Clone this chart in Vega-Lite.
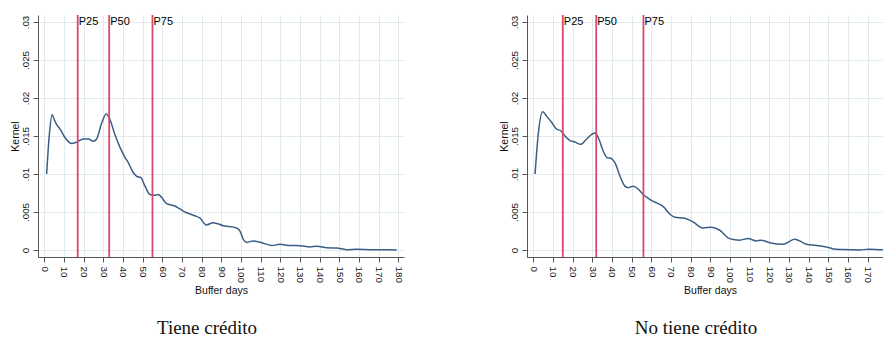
{
  "$schema": "https://vega.github.io/schema/vega-lite/v6.json",
  "background": "white",
  "padding": {"left": 10, "top": 14, "right": 0, "bottom": 0},
  "bounds": "flush",
  "spacing": 123,
  "config": {
    "font": "Liberation Sans",
    "view": {"stroke": null},
    "axis": {
      "domainColor": "#555555",
      "tickColor": "#555555",
      "tickSize": 5,
      "labelColor": "#111111",
      "titleColor": "#111111",
      "labelFontSize": 9.8,
      "titleFontSize": 10.5,
      "titleFontWeight": "normal",
      "gridColor": "#e1eaee",
      "gridWidth": 1
    },
    "axisX": {
      "labelOverlap": false,
      "labelFlush": false,
      "labelAngle": 90,
      "labelAlign": "left",
      "labelBaseline": "middle",
      "labelPadding": 4,
      "titlePadding": 3
    },
    "axisY": {
      "labelOverlap": false,
      "labelFlush": false,
      "labelAngle": -90,
      "labelAlign": "center",
      "labelBaseline": "bottom",
      "labelPadding": 3,
      "titleAngle": -90,
      "titleX": -23,
      "titleY": 121,
      "titleAlign": "center",
      "titleBaseline": "middle"
    }
  },
  "datasets": {
    "tiene": [
      {"day": 1.2, "kernel": 0.0100}, {"day": 2.5, "kernel": 0.0150}, {"day": 4.0, "kernel": 0.0178},
      {"day": 5.0, "kernel": 0.0172}, {"day": 6.3, "kernel": 0.0165}, {"day": 8.0, "kernel": 0.0159},
      {"day": 10.5, "kernel": 0.0148}, {"day": 12.5, "kernel": 0.0142}, {"day": 14.0, "kernel": 0.0140},
      {"day": 16.5, "kernel": 0.0142}, {"day": 19.8, "kernel": 0.0146}, {"day": 22.4, "kernel": 0.0146},
      {"day": 24.9, "kernel": 0.0143}, {"day": 26.6, "kernel": 0.0146}, {"day": 29.2, "kernel": 0.0167},
      {"day": 31.4, "kernel": 0.0179}, {"day": 33.0, "kernel": 0.0174}, {"day": 35.9, "kernel": 0.0152},
      {"day": 38.5, "kernel": 0.0135}, {"day": 41.0, "kernel": 0.0122}, {"day": 42.7, "kernel": 0.0115},
      {"day": 45.2, "kernel": 0.0102}, {"day": 47.0, "kernel": 0.0097}, {"day": 49.2, "kernel": 0.0095},
      {"day": 51.2, "kernel": 0.0084}, {"day": 53.7, "kernel": 0.0073}, {"day": 55.8, "kernel": 0.0072},
      {"day": 58.0, "kernel": 0.0073}, {"day": 59.7, "kernel": 0.0069}, {"day": 62.2, "kernel": 0.0061},
      {"day": 64.8, "kernel": 0.0059}, {"day": 66.4, "kernel": 0.0058}, {"day": 69.0, "kernel": 0.0054},
      {"day": 72.4, "kernel": 0.0049}, {"day": 76.6, "kernel": 0.0045}, {"day": 79.2, "kernel": 0.0042},
      {"day": 82.4, "kernel": 0.0033}, {"day": 85.9, "kernel": 0.0036}, {"day": 91.0, "kernel": 0.0032},
      {"day": 97.8, "kernel": 0.0029}, {"day": 99.5, "kernel": 0.0025}, {"day": 101.2, "kernel": 0.0014},
      {"day": 102.9, "kernel": 0.0010}, {"day": 106.3, "kernel": 0.0012}, {"day": 111.3, "kernel": 0.0009},
      {"day": 115.6, "kernel": 0.0006}, {"day": 119.8, "kernel": 0.00075}, {"day": 124.9, "kernel": 0.0006},
      {"day": 130.0, "kernel": 0.00057}, {"day": 135.1, "kernel": 0.0004}, {"day": 138.5, "kernel": 0.0005},
      {"day": 143.6, "kernel": 0.0003}, {"day": 148.7, "kernel": 0.00025}, {"day": 153.7, "kernel": 0.00005},
      {"day": 158.8, "kernel": 0.0001}, {"day": 167.3, "kernel": 0.00002}, {"day": 174.0, "kernel": 0.00002},
      {"day": 179.2, "kernel": 0.0}
    ],
    "notiene": [
      {"day": 0.9, "kernel": 0.0100}, {"day": 2.5, "kernel": 0.0152}, {"day": 4.8, "kernel": 0.0182},
      {"day": 6.8, "kernel": 0.0176}, {"day": 9.3, "kernel": 0.0168}, {"day": 11.5, "kernel": 0.0160},
      {"day": 14.4, "kernel": 0.0156}, {"day": 16.1, "kernel": 0.0150}, {"day": 18.7, "kernel": 0.0144},
      {"day": 21.2, "kernel": 0.0142}, {"day": 24.1, "kernel": 0.0139}, {"day": 27.1, "kernel": 0.0146},
      {"day": 29.7, "kernel": 0.0152}, {"day": 31.4, "kernel": 0.0154}, {"day": 33.0, "kernel": 0.0148},
      {"day": 35.6, "kernel": 0.0130}, {"day": 37.3, "kernel": 0.0122}, {"day": 39.9, "kernel": 0.0120},
      {"day": 41.5, "kernel": 0.0115}, {"day": 44.1, "kernel": 0.0097}, {"day": 46.6, "kernel": 0.0084},
      {"day": 48.3, "kernel": 0.0082}, {"day": 50.8, "kernel": 0.0084}, {"day": 53.4, "kernel": 0.0080},
      {"day": 55.9, "kernel": 0.0073}, {"day": 58.5, "kernel": 0.0068}, {"day": 61.0, "kernel": 0.0064},
      {"day": 63.5, "kernel": 0.0061}, {"day": 66.1, "kernel": 0.0057}, {"day": 69.5, "kernel": 0.0047},
      {"day": 72.0, "kernel": 0.0043}, {"day": 76.3, "kernel": 0.0042}, {"day": 78.8, "kernel": 0.0040},
      {"day": 81.2, "kernel": 0.0037}, {"day": 86.3, "kernel": 0.0029}, {"day": 90.5, "kernel": 0.0030},
      {"day": 94.8, "kernel": 0.0026}, {"day": 99.8, "kernel": 0.0015}, {"day": 104.9, "kernel": 0.0013},
      {"day": 109.2, "kernel": 0.0015}, {"day": 113.4, "kernel": 0.0012}, {"day": 115.9, "kernel": 0.0013},
      {"day": 120.2, "kernel": 0.00096}, {"day": 126.9, "kernel": 0.00075}, {"day": 132.9, "kernel": 0.0014},
      {"day": 135.4, "kernel": 0.0012}, {"day": 138.8, "kernel": 0.00075}, {"day": 143.9, "kernel": 0.0006},
      {"day": 149.0, "kernel": 0.0004}, {"day": 154.0, "kernel": 0.0001}, {"day": 160.9, "kernel": 0.00005},
      {"day": 166.0, "kernel": 0.0}, {"day": 170.3, "kernel": 0.0001}, {"day": 177.9, "kernel": 0.00005},
      {"day": 180.0, "kernel": 0.00005}
    ],
    "pct_tiene": [
      {"label": "P25", "day": 17},
      {"label": "P50", "day": 33},
      {"label": "P75", "day": 55}
    ],
    "pct_notiene": [
      {"label": "P25", "day": 15},
      {"label": "P50", "day": 32},
      {"label": "P75", "day": 56}
    ]
  },
  "hconcat": [
    {
      "width": 366,
      "height": 242,
      "title": {"text": "Tiene crédito", "orient": "bottom", "frame": "bounds", "anchor": "middle", "font": "Liberation Serif", "fontSize": 19, "fontWeight": "normal", "color": "#111111", "offset": 23},
      "encoding": {
        "x": {"field": "day", "type": "quantitative",
          "scale": {"domain": [-3.2, 182.9], "nice": false, "zero": false},
          "axis": {"title": "Buffer days", "grid": true, "values": [0, 10, 20, 30, 40, 50, 60, 70, 80, 90, 100, 110, 120, 130, 140, 150, 160, 170, 180]}}
      },
      "layer": [
        {
          "data": {"name": "tiene"},
          "mark": {"type": "line", "interpolate": "monotone", "color": "#3a5e86", "strokeWidth": 1.5},
          "encoding": {
            "y": {"field": "kernel", "type": "quantitative",
              "scale": {"domain": [-0.00092, 0.03092], "nice": false, "zero": false},
              "axis": {"title": "Kernel", "grid": true, "values": [0, 0.005, 0.01, 0.015, 0.02, 0.025, 0.03], "labelExpr": "datum.value == 0 ? '0' : replace(format(datum.value, '~g'), '0.', '.')"}}
          }
        },
        {
          "data": {"name": "pct_tiene"},
          "mark": {"type": "rule", "color": "#d9476a", "strokeWidth": 1.8}
        },
        {
          "data": {"name": "pct_tiene"},
          "mark": {"type": "text", "align": "left", "baseline": "middle", "dx": 1, "fontSize": 11, "color": "#000000"},
          "encoding": {
            "y": {"datum": 0.03},
            "text": {"field": "label"}
          }
        }
      ]
    },
    {
      "width": 366,
      "height": 242,
      "title": {"text": "No tiene crédito", "orient": "bottom", "frame": "bounds", "anchor": "middle", "font": "Liberation Serif", "fontSize": 19, "fontWeight": "normal", "color": "#111111", "offset": 23},
      "encoding": {
        "x": {"field": "day", "type": "quantitative",
          "scale": {"domain": [-3.2, 182.9], "nice": false, "zero": false},
          "axis": {"title": "Buffer days", "grid": true, "values": [0, 10, 20, 30, 40, 50, 60, 70, 80, 90, 100, 110, 120, 130, 140, 150, 160, 170, 180]}}
      },
      "layer": [
        {
          "data": {"name": "notiene"},
          "mark": {"type": "line", "interpolate": "monotone", "color": "#3a5e86", "strokeWidth": 1.5},
          "encoding": {
            "y": {"field": "kernel", "type": "quantitative",
              "scale": {"domain": [-0.00092, 0.03092], "nice": false, "zero": false},
              "axis": {"title": "Kernel", "grid": true, "values": [0, 0.005, 0.01, 0.015, 0.02, 0.025, 0.03], "labelExpr": "datum.value == 0 ? '0' : replace(format(datum.value, '~g'), '0.', '.')"}}
          }
        },
        {
          "data": {"name": "pct_notiene"},
          "mark": {"type": "rule", "color": "#d9476a", "strokeWidth": 1.8}
        },
        {
          "data": {"name": "pct_notiene"},
          "mark": {"type": "text", "align": "left", "baseline": "middle", "dx": 1, "fontSize": 11, "color": "#000000"},
          "encoding": {
            "y": {"datum": 0.03},
            "text": {"field": "label"}
          }
        }
      ]
    }
  ]
}
